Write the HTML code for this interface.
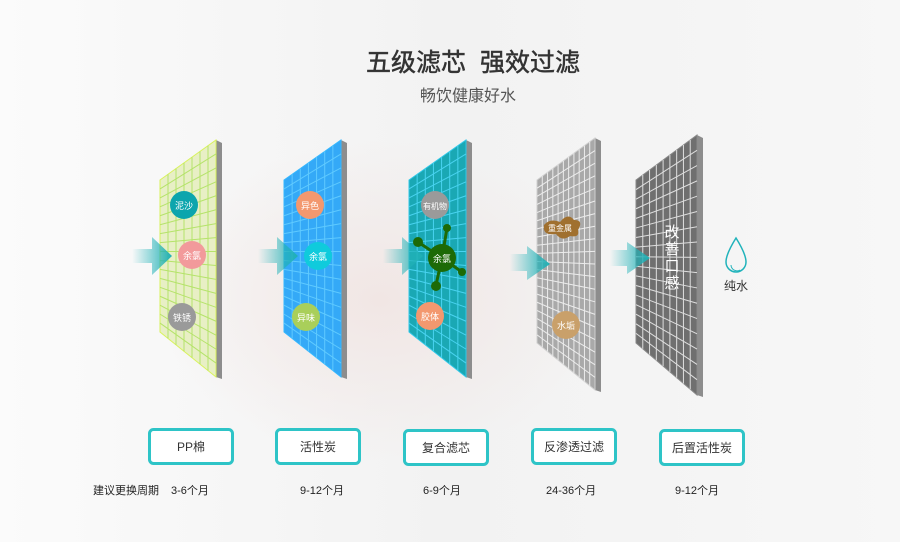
<!DOCTYPE html>
<html><head><meta charset="utf-8"><style>
body{margin:0;width:900px;height:542px;overflow:hidden;font-family:"Liberation Sans","Noto Sans CJK SC",sans-serif;}
#bg{position:absolute;left:0;top:0;width:900px;height:542px;background:radial-gradient(ellipse 220px 160px at 380px 300px,#f1e6e4,rgba(246,246,246,0) 100%),linear-gradient(90deg,#fbfbfb,#f2f2f2 50%,#f7f7f7);}
svg{position:absolute;left:0;top:0}
</style></head><body>
<div id="bg"></div>
<svg id="s" width="900" height="542" viewBox="0 0 900 542">
<defs>
<linearGradient id="ar" x1="0" x2="1"><stop offset="0" stop-color="#27b5bb" stop-opacity="0"/><stop offset="1" stop-color="#1fb0b5"/></linearGradient>
</defs>
<g id="panels"></g>
<g font-size="9" fill="#fff" text-anchor="middle" font-family="Liberation Sans,Noto Sans CJK SC,sans-serif">
<circle cx="184" cy="205" r="14" fill="#0ca5ad"/><text x="184" y="209">泥沙</text>
<circle cx="192" cy="255" r="14" fill="#f29a9b"/><text x="192" y="259">余氯</text>
<circle cx="182" cy="317" r="14" fill="#9a9a9a"/><text x="182" y="321">铁锈</text>
<circle cx="310" cy="205" r="14" fill="#f3986f"/><text x="310" y="209">异色</text>
<circle cx="318" cy="256" r="14" fill="#0fcbdc"/><text x="318" y="260">余氯</text>
<circle cx="306" cy="317" r="14" fill="#a9cf5a"/><text x="306" y="321">异味</text>
<circle cx="435" cy="205" r="14" fill="#9a9a9a"/><text x="435" y="209" font-size="8">有机物</text>
<g stroke="#1d6a06" stroke-width="3"><line x1="442" y1="258" x2="418" y2="242"/><line x1="442" y1="258" x2="447" y2="228"/><line x1="442" y1="258" x2="462" y2="272"/><line x1="442" y1="258" x2="436" y2="285"/></g>
<g fill="#1d6a06"><circle cx="418" cy="242" r="5"/><circle cx="447" cy="228" r="4"/><circle cx="462" cy="272" r="4"/><circle cx="436" cy="286" r="5"/><circle cx="442" cy="258" r="14"/></g><text x="442" y="262">余氯</text>
<circle cx="430" cy="316" r="14" fill="#f3986f"/><text x="430" y="320">胶体</text>
<path d="M544 225 Q550 218 560 222 Q568 212 574 220 Q584 220 578 230 Q580 238 570 236 Q562 242 556 234 Q542 236 544 225Z" fill="#a0702f"/><text x="560" y="231" font-size="8">重金属</text>
<circle cx="566" cy="325" r="14" fill="#c9a06a"/><text x="566" y="329">水垢</text>
</g>
<g fill="url(#ar)">
<path d="M132 249H152V237L172 256L152 275V263H132Z"/>
<path d="M258 249H277V237L298 256L277 275V263H258Z"/>
<path d="M383 249H402V237L423 256L402 275V263H383Z"/>
<path d="M510 254H527V246L550 264L527 280V271H510Z"/>
<path d="M610 250H627V242L650 258L627 274V266H610Z"/>
</g>
<g fill="#fff" font-size="15" text-anchor="middle"><text x="672" y="237">改</text><text x="672" y="254">善</text><text x="672" y="271">口</text><text x="672" y="288">感</text></g>
<path d="M736 238 Q726 254 726 262 A10 10 0 0 0 746 262 Q746 254 736 238Z" fill="none" stroke="#20b3bb" stroke-width="1.5"/>
<path d="M731 265 A6 6 0 0 0 740 270" fill="none" stroke="#20b3bb" stroke-width="1"/>
<text x="736" y="290" font-size="12" fill="#333" text-anchor="middle">纯水</text>
<text x="473" y="71" font-size="25" fill="#333" stroke="#333" stroke-width="0.5" text-anchor="middle">五级滤芯&#160;&#160;强效过滤</text>
<text x="468" y="101" font-size="16" fill="#555" text-anchor="middle">畅饮健康好水</text>
<g fill="#fff" stroke="#2ec4c7" stroke-width="3">
<rect x="149.5" y="429.5" width="83" height="34" rx="4"/>
<rect x="276.5" y="429.5" width="83" height="34" rx="4"/>
<rect x="404.5" y="430.5" width="83" height="34" rx="4"/>
<rect x="532.5" y="429.5" width="83" height="34" rx="4"/>
<rect x="660.5" y="430.5" width="83" height="34" rx="4"/>
</g>
<g font-size="12" fill="#333" text-anchor="middle">
<text x="191" y="451">PP棉</text><text x="318" y="451">活性炭</text><text x="446" y="452">复合滤芯</text><text x="574" y="451">反渗透过滤</text><text x="702" y="452">后置活性炭</text>
</g>
<g font-size="11" fill="#222">
<text x="93" y="494">建议更换周期</text><text x="171" y="494">3-6个月</text><text x="300" y="494">9-12个月</text><text x="423" y="494">6-9个月</text><text x="546" y="494">24-36个月</text><text x="675" y="494">9-12个月</text>
</g>
</svg>
<script>
// x0,x1,fill,line,edge,tl,tr,bl,br,cols,rows
var P=[[160,216,'#e8efc5','#b5e36a','#d9f35c',180,140,332,377,7,17],[284,341,'#34a9f7','#5fcaff','#35b8ff',180,140,332,377,7,17],[409,466,'#1aa8b4','#49d3f0','#30c8e8',180,140,332,377,7,17],[537,595,'#a9a9a9','#ececec','#d0d0d0',180,138,343,390,11,20],[636,697,'#6f6f6f','#dedede','#8a8a8a',180,135,343,395,9,17]];
var h='';
P.forEach(function(p){var x0=p[0],x1=p[1],tl=p[5],tr=p[6],bl=p[7],br=p[8],nv=p[9],nh=p[10];
h+='<polygon points="'+x1+','+(tr)+' '+(x1+6)+','+(tr+3)+' '+(x1+6)+','+(br+2)+' '+x1+','+br+'" fill="#8d8d8d"/>';
h+='<polygon points="'+x0+','+tl+' '+x1+','+tr+' '+x1+','+br+' '+x0+','+bl+'" fill="'+p[2]+'" stroke="'+p[4]+'" stroke-width="1"/>';
for(var i=1;i<nv;i++){var x=x0+(x1-x0)*i/nv,t=tl+(tr-tl)*i/nv,b=bl+(br-bl)*i/nv;h+='<line x1="'+x+'" y1="'+t+'" x2="'+x+'" y2="'+b+'" stroke="'+p[3]+'" stroke-width="1"/>';}
for(var j=1;j<nh;j++){var a=tl+(bl-tl)*j/nh,c=tr+(br-tr)*j/nh;h+='<line x1="'+x0+'" y1="'+a+'" x2="'+x1+'" y2="'+c+'" stroke="'+p[3]+'" stroke-width="1"/>';}
});
document.getElementById('panels').innerHTML=h;
</script>
</body></html>
